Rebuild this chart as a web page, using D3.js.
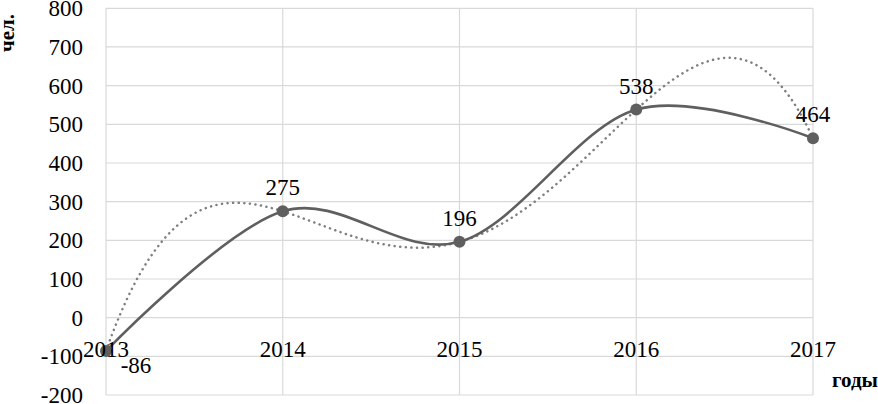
<!DOCTYPE html>
<html>
<head>
<meta charset="utf-8">
<script src="https://cdn.jsdelivr.net/npm/d3@7"></script>
</head>
<body style="margin:0">
<script>
var width = 878, height = 404;
var fontName = "Times New Roman";

// data
var years = ["2013", "2014", "2015", "2016", "2017"];
var values = [-86, 275, 196, 538, 464];
var yTicks = [-200, -100, 0, 100, 200, 300, 400, 500, 600, 700, 800];

var svg = d3.select("body")
.append("svg")
.attr("width", width)
.attr("height", height);

var x = d3.scalePoint().domain(years).range([106, 813]);
var y = d3.scaleLinear().domain([-200, 800]).range([395, 8.3]);

// grid
svg.selectAll(".hgrid")
.data(yTicks)
.enter().append("line")
.attr("class", "hgrid")
.attr("x1", 106).attr("x2", 813)
.attr("y1", function(d){ return y(d) }).attr("y2", function(d){ return y(d) })
.attr("stroke", "#d9d9d9").attr("stroke-width", 1.2);

svg.selectAll(".vgrid")
.data(years)
.enter().append("line")
.attr("class", "vgrid")
.attr("x1", function(d){ return x(d) }).attr("x2", function(d){ return x(d) })
.attr("y1", y(800)).attr("y2", y(-200))
.attr("stroke", "#d9d9d9").attr("stroke-width", 1.2);

// y tick labels
svg.selectAll(".ytick")
.data(yTicks)
.enter().append("text")
.attr("class", "ytick")
.attr("x", 83)
.attr("y", function(d){ return y(d) + 8 })
.style("font-family", "'" + fontName + "'")
.style("font-size", "23px")
.style("text-anchor", "end")
.text(function(d){ return d });

// trendline (polynomial, degree 4) computed from data
function poly(t){
    var s = 0;
    for (var i = 0; i < values.length; i++) {
        var l = 1;
        for (var j = 0; j < values.length; j++) {
            if (j !== i) l *= (t - j) / (i - j);
        }
        s += values[i] * l;
    }
    return s;
}
var step = x.step();
var trend = d3.range(0, 4.001, 0.02).map(function(t){
    return [x(years[0]) + t * step, y(poly(t))];
});
svg.append("path")
.attr("d", d3.line()(trend))
.attr("fill", "none")
.attr("stroke", "#7f7f7f")
.attr("stroke-width", 2.5)
.attr("stroke-linecap", "round")
.attr("stroke-dasharray", "0.1,5.5");

// main smoothed line
var pts = years.map(function(d, i){ return [x(d), y(values[i])] });
svg.append("path")
.attr("d", d3.line().curve(d3.curveCatmullRom.alpha(0))(pts))
.attr("fill", "none")
.attr("stroke", "#5f5f5f")
.attr("stroke-width", 2.6);

svg.selectAll("circle")
.data(pts)
.enter().append("circle")
.attr("cx", function(d){ return d[0] })
.attr("cy", function(d){ return d[1] })
.attr("r", 6)
.attr("fill", "#5f5f5f");

// category labels
svg.selectAll(".xtick")
.data(years)
.enter().append("text")
.attr("class", "xtick")
.attr("x", function(d){ return x(d) })
.attr("y", y(0) + 39)
.style("font-family", "'" + fontName + "'")
.style("font-size", "23px")
.style("text-anchor", "middle")
.text(function(d){ return d });

// data labels
svg.selectAll(".dlabel")
.data(values)
.enter().append("text")
.attr("class", "dlabel")
.attr("x", function(d, i){ return x(years[i]) + (d < 0 ? 30 : 0) })
.attr("y", function(d, i){ return d < 0 ? y(d) + 22 : y(d) - 16 })
.style("font-family", "'" + fontName + "'")
.style("font-size", "23px")
.style("text-anchor", "middle")
.text(function(d){ return d });

// axis titles
svg.append("text")
.attr("transform", "translate(14,33) rotate(-90)")
.style("font-family", "'" + fontName + "'")
.style("font-size", "21px")
.style("font-weight", "bold")
.style("text-anchor", "middle")
.text("чел.");

svg.append("text")
.attr("x", 878)
.attr("y", 387)
.style("font-family", "'" + fontName + "'")
.style("font-size", "21px")
.style("font-weight", "bold")
.style("text-anchor", "end")
.text("годы");
</script>
</body>
</html>
